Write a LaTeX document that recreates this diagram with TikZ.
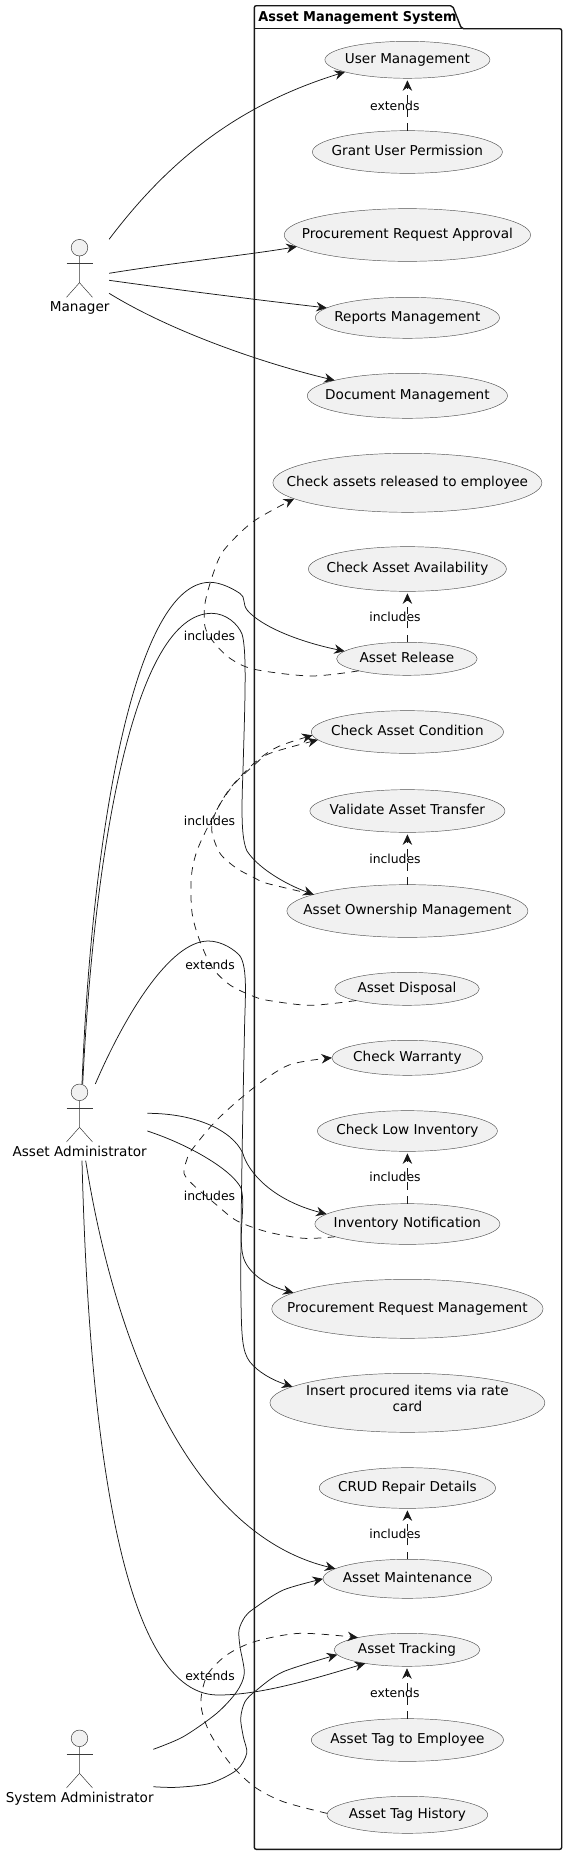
\documentclass[tikz,border=0pt]{standalone}
\usepackage{fontspec}
\setmainfont{DejaVu Sans}
\usetikzlibrary{arrows.meta,shapes.geometric}
\definecolor{ink}{HTML}{181818}
\definecolor{ucfill}{HTML}{F1F1F1}
\newcommand\uct[1]{\smash{\makebox[0pt]{\raisebox{-3.4pt}{#1}}}}
\newcommand\usecasetext{\fontsize{13.6}{16.7}\selectfont}
\tikzset{
  uc/.style={ellipse,draw=ink!75,line width=0.45pt,fill=ucfill,inner sep=0pt,outer sep=0pt,text=black,font=\usecasetext},
  actorpart/.style={draw=ink!85,line width=0.5pt},
  actorhead/.style={circle,draw=ink!85,line width=0.5pt,fill=ucfill,minimum size=16.6pt,inner sep=0pt,outer sep=0pt},
  actorname/.style={inner sep=0pt,anchor=base,font=\usecasetext},
  edgelabel/.style={inner sep=0pt,font=\fontsize{12.4}{15}\selectfont},
  tipstyle/.style={-{Stealth[length=10.5pt,width=9.5pt,inset=3.5pt]}},
  solidedge/.style={draw=ink,line width=0.75pt,tipstyle},
  dashedge/.style={draw=ink,line width=0.75pt,tipstyle,dash pattern=on 7.5pt off 6.5pt},
}
\begin{document}
\begin{tikzpicture}[x=1pt,y=-1pt]
\useasboundingbox (0,0) rectangle (567,1855);
% package
\draw[ink,line width=1.4pt,rounded corners=2pt] (254.3,28.7) -- (254.3,5.7) -- (452.5,5.7) -- (461.5,28.7) -- (561.7,28.7) -- (561.7,1849.3) -- (254.3,1849.3) -- cycle;
\draw[ink,line width=1.4pt] (254.3,28.7) -- (461.5,28.7);
\node[anchor=base west,inner sep=0pt,font=\usecasetext\bfseries] (pkg) at (258.2,21.4) {\scalebox{0.95}[1]{Asset Management System}};
% use cases
\node[uc,minimum width=165pt,minimum height=37pt] (uc1) at (407.4,59.8) {\uct{User Management}};
\node[uc,minimum width=190pt,minimum height=42.7pt] (uc2) at (407.4,152) {\uct{Grant User Permission}};
\node[uc,minimum width=246.4pt,minimum height=52.7pt] (uc3) at (407.4,235) {\uct{Procurement Request Approval}};
\node[uc,minimum width=184.2pt,minimum height=41pt] (uc4) at (407.4,317.8) {\uct{Reports Management}};
\node[uc,minimum width=200.2pt,minimum height=45pt] (uc5) at (407.4,395.8) {\uct{Document Management}};
\node[uc,minimum width=269pt,minimum height=59pt] (uc6) at (407.4,482.8) {\uct{Check assets released to employee}};
\node[uc,minimum width=198pt,minimum height=44.7pt] (uc7) at (407.4,569) {\uct{Check Asset Availability}};
\node[uc,minimum width=140.5pt,minimum height=33pt] (uc8) at (406.9,658.8) {\uct{Asset Release}};
\node[uc,minimum width=192.2pt,minimum height=42.7pt] (uc9) at (407.4,732) {\uct{Check Asset Condition}};
\node[uc,minimum width=195pt,minimum height=42.7pt] (uc10) at (407.4,811) {\uct{Validate Asset Transfer}};
\node[uc,minimum width=241pt,minimum height=52.7pt] (uc11) at (407.4,911) {\uct{Asset Ownership Management}};
\node[uc,minimum width=144.5pt,minimum height=33pt] (uc12) at (407,988.8) {\uct{Asset Disposal}};
\node[uc,minimum width=151pt,minimum height=35pt] (uc13) at (407.4,1057.8) {\uct{Check Warranty}};
\node[uc,minimum width=180pt,minimum height=40.7pt] (uc14) at (407.4,1131) {\uct{Check Low Inventory}};
\node[uc,minimum width=185pt,minimum height=40.7pt] (uc15) at (407.4,1224) {\uct{Inventory Notification}};
\node[uc,minimum width=271.3pt,minimum height=59pt] (uc16) at (407.4,1308.8) {\uct{Procurement Request Management}};
\node[uc,minimum width=274.9pt,minimum height=59pt] (uc17) at (407.4,1402.8) {\smash{\makebox[0pt]{\raisebox{-1pt}{\begin{tabular}{@{}c@{}}Insert procured items via rate\\card\end{tabular}}}}};
\node[uc,minimum width=176.3pt,minimum height=40.7pt] (uc18) at (407.4,1488) {\uct{CRUD Repair Details}};
\node[uc,minimum width=168.7pt,minimum height=39pt] (uc19) at (407.4,1578.8) {\uct{Asset Maintenance}};
\node[uc,minimum width=145.8pt,minimum height=33pt] (uc20) at (407,1649.8) {\uct{Asset Tracking}};
\node[uc,minimum width=192.2pt,minimum height=42.7pt] (uc21) at (407.4,1740) {\uct{Asset Tag to Employee}};
\node[uc,minimum width=160.7pt,minimum height=37pt] (uc22) at (407.4,1814.8) {\uct{Asset Tag History}};
% actors
\node[actorhead] (mgr) at (79.5,247.7) {};
\draw[actorpart] (mgr.south) -- ++(0,26.7) -- ++(-13,14.6);
\draw[actorpart] (mgr.south) ++(0,26.7) -- ++(13,14.6);
\draw[actorpart] (66.5,263.3) -- (92.5,263.3);
\node[actorname] (mgrname) at (79.7,311.7) {Manager};
\node[actorhead] (adm) at (79.5,1092.3) {};
\draw[actorpart] (adm.south) -- ++(0,26.7) -- ++(-13,14.6);
\draw[actorpart] (adm.south) ++(0,26.7) -- ++(13,14.6);
\draw[actorpart] (66.5,1107.9) -- (92.5,1107.9);
\node[actorname] (admname) at (79.7,1156.3) {Asset Administrator};
\node[actorhead] (sys) at (79.5,1738.3) {};
\draw[actorpart] (sys.south) -- ++(0,26.7) -- ++(-13,14.6);
\draw[actorpart] (sys.south) ++(0,26.7) -- ++(13,14.6);
\draw[actorpart] (66.5,1753.9) -- (92.5,1753.9);
\node[actorname] (sysname) at (79.7,1802.7) {System Administrator};
% free ends at the actors
\coordinate (m1) at (109.1,239.3);
\coordinate (m2) at (109.1,273.3);
\coordinate (m3) at (109.1,280.3);
\coordinate (m4) at (109.1,293.3);
\coordinate (a1) at (82,1084);
\coordinate (a2) at (82.7,1084);
\coordinate (a3) at (95.3,1084);
\coordinate (a4) at (147.4,1113.3);
\coordinate (a5) at (147.4,1131);
\coordinate (a6) at (85.7,1160.7);
\coordinate (a7) at (82,1160.7);
\coordinate (s1) at (153.3,1749.3);
\coordinate (s2) at (153.3,1786.7);
% manager
\draw[solidedge] (m1) .. controls (169,160) and (238,105) .. (uc1.191.9);
\draw[solidedge] (m2) .. controls (178.5,262) and (248,255) .. (uc3.186.8);
\draw[solidedge] (m3) .. controls (178.5,290) and (258,300) .. (uc4.173.3);
\draw[solidedge] (m4) .. controls (168.6,330) and (258,362) .. (uc5.168.8);
% admin
\draw[solidedge] (a1) .. controls (92,830) and (135,582.3) .. (210,582.3)
  .. controls (220,582.3) and (232,588) .. (240,593.5)
  .. controls (246,597) and (242,604) .. (247.5,610.5)
  .. controls (262,627) and (300,642) .. (uc8.173.4);
\draw[solidedge] (a2) .. controls (94,850) and (134,613.3) .. (211.7,613.3)
  .. controls (226,613.3) and (238,624) .. (242,634)
  .. controls (247,650) and (245,700) .. (243,770)
  .. controls (241.5,810) and (241,838) .. (247,851)
  .. controls (258,868) and (285,884) .. (uc11.170.9);
\draw[solidedge] (a3) .. controls (125,1015) and (170,941) .. (208.3,941)
  .. controls (222,941) and (235,950) .. (240,956)
  .. controls (248,968) and (245,1000) .. (244.5,1030)
  .. controls (243,1100) and (240,1250) .. (241,1300)
  .. controls (241.5,1335) and (242,1352) .. (250,1362)
  .. controls (258,1372) and (272,1380) .. (uc17.172.4);
\draw[solidedge] (a4) .. controls (195,1113.3) and (232,1130) .. (242.7,1153)
  .. controls (248,1172) and (272,1200) .. (uc15.173.8);
\draw[solidedge] (a5) .. controls (190,1145) and (232,1170) .. (241,1188)
  .. controls (246,1205) and (238,1235) .. (243,1256)
  .. controls (247,1272) and (265,1285) .. (uc16.172.6);
\draw[solidedge] (a6) .. controls (117,1358) and (195,1535) .. (uc19.172.8);
\draw[solidedge] (a7) .. controls (88,1400) and (115,1695) .. (218,1695)
  .. controls (260,1695) and (310,1680) .. (uc20.198.2);
% system administrator
\draw[solidedge] plot[smooth] coordinates {(s1) (183.3,1736.7) (216.7,1713.3) (236.7,1691.7) (244.3,1673.3) (240,1646.7) (239,1630) (245,1616.7) (254.3,1608.3) (283.3,1590) (uc19.180)};
\draw[solidedge] plot[smooth] coordinates {(s2) (176.7,1787.3) (210,1783.3) (236.7,1770) (246.7,1753.3) (243.3,1736.7) (240.7,1718.3) (245,1701.7) (256.7,1690) (283.3,1671.7) (uc20.184.4)};
% dashed straight
\draw[dashedge,shorten >=2pt] (uc2.north) -- (uc1.south);
\draw[dashedge,shorten >=2pt] (uc8.north -| uc7.south) -- (uc7.south);
\draw[dashedge,shorten >=2pt] (uc11.north) -- (uc10.south);
\draw[dashedge,shorten >=2pt] (uc15.north) -- (uc14.south);
\draw[dashedge,shorten >=2pt] (uc19.north) -- (uc18.south);
\draw[dashedge,shorten >=2pt] (uc21.north -| uc20.south) -- (uc20.south);
% dashed curved
\draw[dashedge] plot[smooth] coordinates {(uc8.194.6) (310.7,676) (254.3,669.3) (230,658.3) (213.3,641.7) (205,626.7) (205,603.3) (213.3,573.3) (224,550) (253,521.7) (uc6.188.1)};
\draw[dashedge] plot[smooth] coordinates {(uc11.170.6) (266.7,883.3) (254.3,877.7) (236.7,868.3) (220,853.3) (211.7,830) (216.7,810) (233.3,785) (254.3,765) (270,753.3) (uc9.185)};
\draw[dashedge] plot[smooth] coordinates {(uc12.193.8) (310.7,1005.3) (270,1000.7) (254.3,996.7) (230,985) (211.7,966.7) (198.3,936.7) (191.7,910) (191.7,873.3) (200,843.3) (226.7,793) (254.3,763) (278,746.7) (uc9.182.3)};
\draw[dashedge] plot[smooth] coordinates {(uc15.190.5) (303.5,1238.3) (266.7,1231.7) (236.7,1220.7) (216.7,1205) (193.3,1185) (184,1173.3) (186.7,1160) (191.7,1150) (216.8,1120) (253,1088.3) (289,1065) (uc13.180)};
\draw[dashedge] plot[smooth] coordinates {(uc22.179) (283.3,1801.7) (254.3,1786.7) (230,1763.3) (210,1733.3) (201.7,1710) (201.7,1693.3) (208.3,1673.3) (226.7,1655) (254.3,1641.7) (300,1633.3) (uc20.166.8)};
% labels
\node[edgelabel] (l1) at (394.8,105.7) {extends};
\node[edgelabel] (l2) at (395,617.3) {includes};
\node[edgelabel] (l3) at (209.5,635.7) {includes};
\node[edgelabel] (l4) at (395,859.3) {includes};
\node[edgelabel] (l5) at (209.5,820.7) {includes};
\node[edgelabel] (l6) at (210,964.7) {extends};
\node[edgelabel] (l7) at (395,1177.3) {includes};
\node[edgelabel] (l8) at (209.5,1195.7) {includes};
\node[edgelabel] (l9) at (395,1534.3) {includes};
\node[edgelabel] (l10) at (210,1675.7) {extends};
\node[edgelabel] (l11) at (394.8,1693.3) {extends};
\end{tikzpicture}
\end{document}
